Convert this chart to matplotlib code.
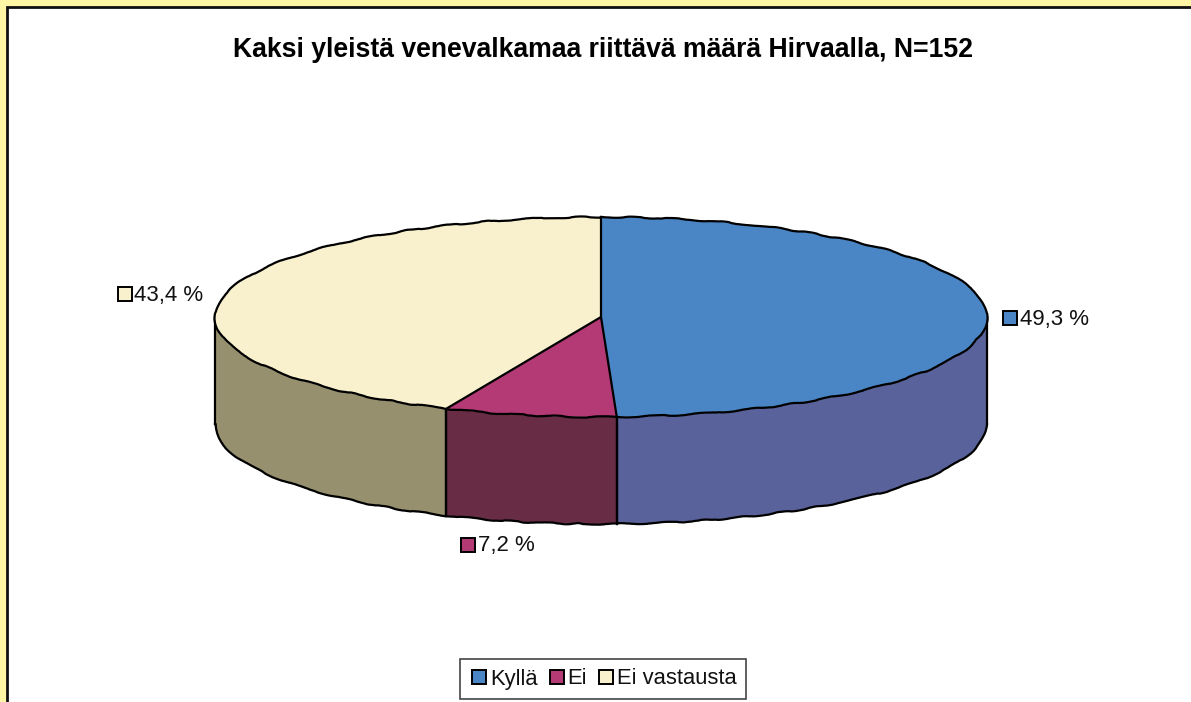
import numpy as np
import matplotlib
matplotlib.use("Agg")
import matplotlib.pyplot as plt
from matplotlib.patches import Rectangle, Polygon
from matplotlib.lines import Line2D

plt.rcParams['font.family'] = ['Liberation Sans', 'DejaVu Sans']

categories = ["Kyllä", "Ei", "Ei vastausta"]
values = [49.3, 7.2, 43.4]
value_labels = ["49,3 %", "7,2 %", "43,4 %"]
title = "Kaksi yleistä venevalkamaa riittävä määrä Hirvaalla, N=152"
top_colors = ["#4A86C5", "#B43A76", "#F9F1CE"]
side_colors = ["#59629A", "#682D45", "#97906E"]

W, H = 1191, 702
CX, CY, RX, RY, DEPTH = 601, 317, 386, 100, 107
LW = 1.6

fig = plt.figure(figsize=(W / 100, H / 100), dpi=100, facecolor="#FFF6A6")

# background frame
bg = fig.add_axes([0, 0, 1, 1], zorder=0)
bg.set_xlim(0, W); bg.set_ylim(H, 0); bg.axis("off")
bg.add_patch(Rectangle((7, 7), 1300, 800, fc="white", ec="#111111", lw=2, clip_on=False))

# pixel overlay for texts and label keys
ov = fig.add_axes([0, 0, 1, 1], zorder=2)
ov.set_xlim(0, W); ov.set_ylim(H, 0); ov.axis("off")

# pie axes: data unit 1 = RX / RY pixels
XSPAN, YSPAN = 1.5, 2.5
ax = fig.add_axes([(CX - XSPAN * RX) / W, 1 - (CY + YSPAN * RY) / H,
                   2 * XSPAN * RX / W, 2 * YSPAN * RY / H], zorder=1)
ax.patch.set_alpha(0)

frac = np.array(values) / sum(values)
edges = np.concatenate([[0], np.cumsum(frac)]) * 2 * np.pi  # clockwise from top
d = DEPTH / RY

def arc(a0, a1, n=200):
    t = np.linspace(a0, a1, n)
    return np.sin(t), np.cos(t)

# side walls, visible on the front half
for i in range(len(values)):
    a0, a1 = max(edges[i], np.pi / 2), min(edges[i + 1], 3 * np.pi / 2)
    if a1 <= a0:
        continue
    x, y = arc(a0, a1)
    ax.add_patch(Polygon(np.r_[np.c_[x, y], np.c_[x[::-1], y[::-1] - d]],
                         fc=side_colors[i], ec="none", zorder=2))
    ax.plot([x[-1], x[-1]], [y[-1], y[-1] - d], color="black", lw=LW, zorder=3)
    ax.plot([x[0], x[0]], [y[0], y[0] - d], color="black", lw=LW, zorder=3)

# top face
wedges, _ = ax.pie(values, colors=top_colors, startangle=90, counterclock=False,
                   radius=1, wedgeprops=dict(linewidth=0))
for w in wedges:
    w.set_zorder(4)
ax.set_aspect("auto")
ax.set_xlim(-XSPAN, XSPAN)
ax.set_ylim(-YSPAN, YSPAN)

# outlines with the slightly rough look of the original
x, y = arc(0, 2 * np.pi, 400)
l, = ax.plot(x, y, color="black", lw=LW, zorder=5)
l.set_sketch_params(scale=0.7, length=70, randomness=6)
x, y = arc(np.pi / 2, 3 * np.pi / 2, 300)
l, = ax.plot(x, y - d, color="black", lw=LW, zorder=3)
l.set_sketch_params(scale=0.7, length=70, randomness=6)
for a in edges[:-1]:
    ax.plot([0, np.sin(a)], [0, np.cos(a)], color="black", lw=LW, zorder=5,
            solid_capstyle="round")

# title
ov.text(603, 50, title, ha="center", va="center", fontsize=19.2, fontweight="bold",
        color="black")

# data labels
label_pos = [(1010, 318), (468, 545), (125, 294)]
for (px, py), lab, c in zip(label_pos, value_labels, top_colors):
    ov.plot([px], [py], marker="s", ms=10, mfc=c, mec="black", mew=1.4, ls="none")
    ov.text(px + 9.5, py + 1, lab, ha="left", va="center", fontsize=16, color="#111111")

# legend
handles = [Line2D([], [], marker="s", ls="none", ms=10, mfc=c, mec="black", mew=1.4)
           for c in top_colors]
leg = fig.legend(handles, categories, ncol=3, loc="center",
                 bbox_to_anchor=(603 / W, 1 - 679 / H), fontsize=15.8,
                 frameon=True, fancybox=False, edgecolor="#444444", framealpha=1,
                 handletextpad=0.05, columnspacing=0.4, borderpad=0.42,
                 handlelength=0.9, labelcolor="#111111")
leg.get_frame().set_linewidth(1.2)
leg.set_zorder(5)

fig.savefig("out.png", dpi=100, facecolor=fig.get_facecolor())
